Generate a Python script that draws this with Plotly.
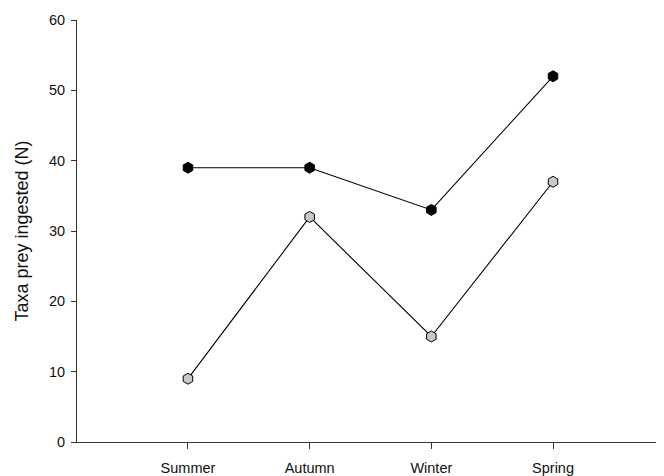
import plotly.graph_objects as go

seasons = ["Summer", "Autumn", "Winter", "Spring"]
series_black = [39, 39, 33, 52]
series_gray = [9, 32, 15, 37]
y_ticks = [0, 10, 20, 30, 40, 50, 60]

xpos = [1, 2, 3, 4]

fig = go.Figure()
fig.add_trace(go.Scatter(
    x=xpos, y=series_black, mode="lines+markers",
    line=dict(color="black", width=1.1),
    marker=dict(symbol="hexagon", size=11, color="black",
                line=dict(color="black", width=1)),
    showlegend=False))
fig.add_trace(go.Scatter(
    x=xpos, y=series_gray, mode="lines+markers",
    line=dict(color="black", width=1.1),
    marker=dict(symbol="hexagon", size=11, color="#c8c8c8",
                line=dict(color="black", width=1)),
    showlegend=False))

fig.update_layout(
    width=656, height=468,
    margin=dict(l=69, r=0, t=12, b=34),
    plot_bgcolor="white", paper_bgcolor="white",
    font=dict(family="Arial, Liberation Sans, sans-serif", size=14, color="#111"),
    xaxis=dict(
        range=[0.088, 4.912], tickvals=xpos, ticktext=seasons,
        showgrid=False, zeroline=False, showline=True, linecolor="#333",
        linewidth=1, ticks="outside", ticklen=6, tickcolor="#333",
        ticklabelstandoff=7,
        tickfont=dict(size=14.5)),
    yaxis=dict(
        range=[0, 60], tickvals=y_ticks,
        showgrid=False, zeroline=False, showline=True, linecolor="#333",
        linewidth=1, ticks="outside", ticklen=5, tickcolor="#333",
        ticklabelstandoff=3,
        tickfont=dict(size=14.5),
        title=dict(text="Taxa prey ingested (N)", font=dict(size=18), standoff=15)),
)

fig.write_html("out.html")
